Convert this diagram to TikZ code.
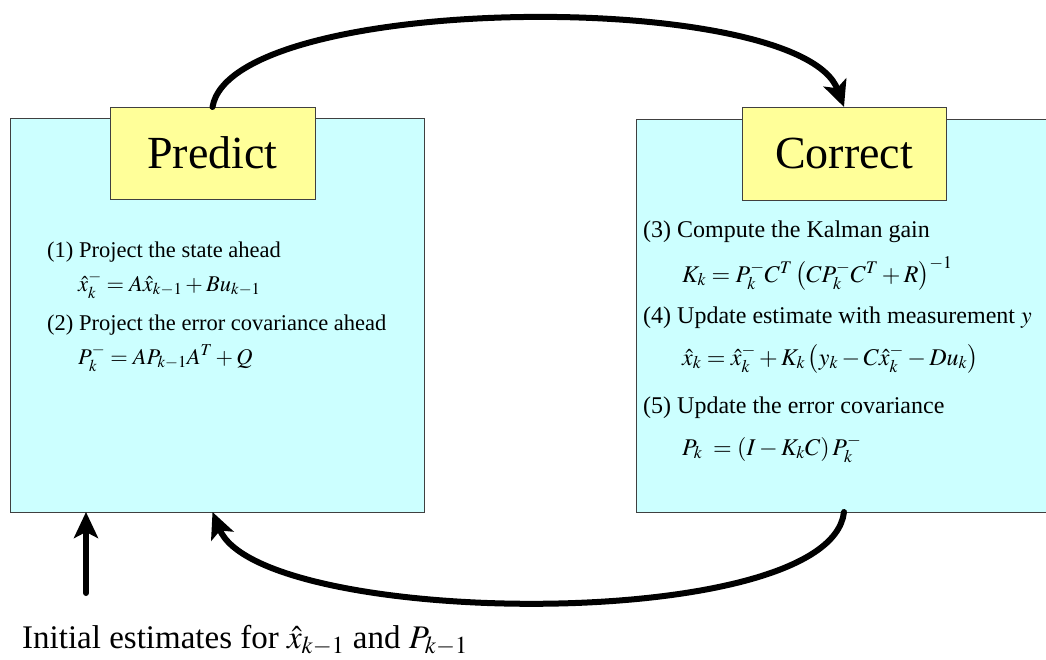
\documentclass[tikz,border=0pt]{standalone}
\usepackage{mathptmx}
\usepackage[no-math]{fontspec}
\setmainfont{Liberation Serif}
\usetikzlibrary{arrows.meta}
\definecolor{cyanbg}{RGB}{204,255,255}
\definecolor{yelbg}{RGB}{255,255,153}
\begin{document}
\begin{tikzpicture}[x=1pt,y=-1pt,
  panel/.style={draw=black!75, line width=0.8pt, fill=cyanbg, inner sep=0pt, outer sep=0pt},
  title/.style={draw=black!75, line width=0.8pt, fill=yelbg, inner sep=0pt, outer sep=0pt,
     font=\fontsize{46}{50}\selectfont},
  ltext/.style={anchor=base west, inner sep=0pt, font=\fontsize{22.5}{26}\selectfont},
  rtext/.style={anchor=base west, inner sep=0pt, font=\fontsize{24}{28}\selectfont},
  bigarrow/.style={line width=6pt, line cap=round, -{Stealth[length=26pt,width=24pt,inset=6pt]}}]
\useasboundingbox (0,0) rectangle (1046,660);
\clip (0,0) rectangle (1046,660);
% panels
\node[panel, minimum width=414pt, minimum height=394pt] (lbox) at (217,315) {};
\node[panel, minimum width=424pt, minimum height=393pt] (rbox) at (848,315.5) {};
\node[title, minimum width=205pt, minimum height=92pt] (predict) at (212.5,153) {Predict};
\node[title, minimum width=204pt, minimum height=93pt] (correct) at (844,153.5) {Correct};
% left texts
\node[ltext] (t1) at (47,258) {(1) Project the state ahead};
\node[ltext] (e1) at (78,291) {$\hat{x}_k^- = A\hat{x}_{k-1} + Bu_{k-1}$};
\node[ltext] (t2) at (47,330) {(2) Project the error covariance ahead};
\node[ltext] (e2) at (78,364) {$P_k^- = AP_{k-1}A^T + Q$};
% right texts
\node[rtext] (t3) at (643,238) {(3) Compute the Kalman gain};
\node[rtext] (e3) at (682,282) {$K_k = P_k^- C^T \left(CP_k^- C^T + R\right)^{-1}$};
\node[rtext] (t4) at (643,323) {(4) Update estimate with measurement $y$};
\node[rtext] (e4) at (682,365) {$\hat{x}_k = \hat{x}_k^- + K_k\left(y_k - C\hat{x}_k^- - Du_k\right)$};
\node[rtext] (t5) at (643,413) {(5) Update the error covariance};
\node[rtext] (e5) at (682,455) {$P_k \;= \left(I - K_k C\right)P_k^-$};
% initial
\node[anchor=base west, inner sep=0pt, font=\fontsize{33}{37}\selectfont] (init) at (22,648)
  {Initial estimates for $\hat{x}_{k-1}$ and $P_{k-1}$};
\coordinate (initarrow) at (86,593);
% arrows
\draw[bigarrow] (predict.north) .. controls (232,-8) and (800,-12) .. (correct.north);
\draw[bigarrow] (correct.center |- rbox.south) .. controls (830,635) and (260,628) .. (predict.center |- lbox.south);
\draw[bigarrow] (initarrow) -- (initarrow |- lbox.south);
\end{tikzpicture}
\end{document}
